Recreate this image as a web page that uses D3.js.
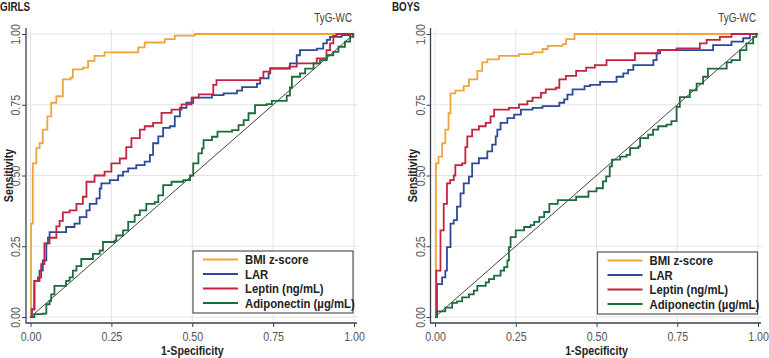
<!DOCTYPE html>
<html>
<head>
<meta charset="utf-8">
<script src="https://cdnjs.cloudflare.com/ajax/libs/d3/7.8.5/d3.min.js"></script>
<style>
  body { margin: 0; background: #fff; }
  svg text { font-family: 'Liberation Sans', Arial, sans-serif; }
</style>
</head>
<body>
<div id="chart"></div>
<script>
// series names and colours (legend order)
var seriesNames = ['BMI z-score', 'LAR', 'Leptin (ng/mL)', 'Adiponectin (µg/mL)']
var seriesColors = ['#f2a43a', '#2b4a98', '#c4223f', '#1d6b3d']
var tickValues = [0, 0.25, 0.5, 0.75, 1]

// ROC points [1-specificity, sensitivity]
var girlsBmi = [[0,0],[0.002,0.33],[0.007,0.543],[0.018,0.597],[0.028,0.614],[0.038,0.662],[0.052,0.709],[0.064,0.757],[0.080,0.78],[0.10,0.84],[0.124,0.846],[0.131,0.875],[0.162,0.881],[0.178,0.905],[0.198,0.923],[0.229,0.935],[0.333,0.953],[0.353,0.97],[0.415,0.982],[0.446,0.994],[0.508,1],[1,1]]
var girlsLar = [[0,0],[0.004,0.027],[0.012,0.128],[0.028,0.164],[0.038,0.20],[0.049,0.26],[0.054,0.28],[0.059,0.30],[0.095,0.30],[0.11,0.318],[0.136,0.33],[0.152,0.353],[0.173,0.377],[0.183,0.40],[0.204,0.419],[0.214,0.454],[0.219,0.472],[0.245,0.484],[0.271,0.50],[0.286,0.514],[0.302,0.525],[0.327,0.537],[0.353,0.549],[0.369,0.573],[0.379,0.614],[0.395,0.638],[0.41,0.668],[0.431,0.674],[0.446,0.709],[0.462,0.739],[0.482,0.757],[0.503,0.775],[0.561,0.784],[0.597,0.79],[0.638,0.80],[0.654,0.812],[0.70,0.825],[0.71,0.843],[0.736,0.861],[0.741,0.878],[0.802,0.896],[0.823,0.925],[0.833,0.943],[0.885,0.948],[0.905,0.967],[0.916,0.979],[0.926,0.99],[0.962,0.996],[0.988,1],[1,1]]
var girlsLeptin = [[0,0],[0.004,0.027],[0.012,0.128],[0.023,0.14],[0.033,0.187],[0.043,0.26],[0.059,0.28],[0.08,0.32],[0.09,0.34],[0.10,0.37],[0.121,0.377],[0.142,0.40],[0.162,0.425],[0.173,0.478],[0.198,0.50],[0.229,0.514],[0.25,0.543],[0.276,0.56],[0.296,0.60],[0.312,0.632],[0.338,0.662],[0.353,0.674],[0.379,0.686],[0.405,0.721],[0.436,0.733],[0.467,0.751],[0.498,0.775],[0.52,0.787],[0.565,0.82],[0.575,0.837],[0.71,0.845],[0.72,0.867],[0.741,0.879],[0.80,0.885],[0.823,0.896],[0.885,0.914],[0.915,0.943],[0.926,0.967],[0.936,0.993],[0.946,1],[1,1]]
var girlsAdipo = [[0,0],[0.012,0.01],[0.038,0.012],[0.049,0.045],[0.059,0.057],[0.064,0.08],[0.074,0.11],[0.10,0.11],[0.11,0.128],[0.121,0.14],[0.131,0.164],[0.142,0.18],[0.157,0.205],[0.183,0.205],[0.193,0.223],[0.214,0.235],[0.224,0.265],[0.26,0.27],[0.265,0.288],[0.286,0.306],[0.302,0.336],[0.322,0.36],[0.338,0.377],[0.358,0.40],[0.384,0.406],[0.395,0.43],[0.41,0.466],[0.436,0.478],[0.472,0.484],[0.493,0.50],[0.503,0.543],[0.519,0.578],[0.53,0.596],[0.535,0.625],[0.561,0.637],[0.578,0.655],[0.623,0.66],[0.643,0.678],[0.659,0.696],[0.674,0.72],[0.694,0.749],[0.73,0.752],[0.746,0.764],[0.782,0.764],[0.792,0.782],[0.802,0.811],[0.808,0.849],[0.833,0.861],[0.849,0.878],[0.875,0.896],[0.895,0.908],[0.916,0.925],[0.936,0.937],[0.952,0.955],[0.972,0.973],[0.988,0.99],[0.998,1],[1,1]]

var boysBmi = [[0,0],[0.003,0.543],[0.011,0.567],[0.022,0.614],[0.032,0.662],[0.042,0.72],[0.048,0.79],[0.063,0.80],[0.089,0.816],[0.105,0.84],[0.131,0.87],[0.146,0.90],[0.162,0.91],[0.198,0.923],[0.26,0.929],[0.302,0.935],[0.333,0.947],[0.349,0.958],[0.395,0.964],[0.406,0.982],[0.432,1],[1,1]]
var boysLar = [[0,0],[0.006,0.116],[0.022,0.14],[0.032,0.164],[0.037,0.247],[0.048,0.33],[0.058,0.342],[0.068,0.39],[0.079,0.437],[0.089,0.472],[0.105,0.496],[0.115,0.543],[0.136,0.561],[0.162,0.585],[0.177,0.609],[0.188,0.638],[0.193,0.662],[0.203,0.686],[0.224,0.703],[0.245,0.715],[0.266,0.733],[0.302,0.739],[0.333,0.745],[0.385,0.757],[0.40,0.769],[0.41,0.786],[0.426,0.804],[0.463,0.816],[0.48,0.82],[0.511,0.831],[0.562,0.849],[0.583,0.861],[0.598,0.873],[0.614,0.89],[0.676,0.908],[0.686,0.932],[0.697,0.943],[0.861,0.961],[0.918,0.973],[0.954,0.985],[0.975,1],[1,1]]
var boysLeptin = [[0,0],[0.004,0.164],[0.017,0.306],[0.027,0.40],[0.037,0.472],[0.047,0.484],[0.058,0.50],[0.063,0.537],[0.084,0.543],[0.094,0.60],[0.10,0.638],[0.115,0.662],[0.136,0.674],[0.157,0.686],[0.172,0.709],[0.183,0.733],[0.229,0.739],[0.26,0.751],[0.286,0.763],[0.302,0.775],[0.328,0.792],[0.343,0.804],[0.374,0.81],[0.385,0.84],[0.405,0.852],[0.437,0.87],[0.468,0.881],[0.495,0.89],[0.531,0.908],[0.619,0.932],[0.69,0.943],[0.748,0.949],[0.82,0.967],[0.841,0.979],[0.882,0.99],[0.918,1],[1,1]]
var boysAdipo = [[0,0],[0.006,0.02],[0.032,0.033],[0.053,0.05],[0.068,0.055],[0.084,0.069],[0.105,0.08],[0.12,0.093],[0.131,0.11],[0.157,0.122],[0.167,0.134],[0.183,0.146],[0.203,0.164],[0.214,0.176],[0.224,0.20],[0.229,0.247],[0.234,0.282],[0.25,0.306],[0.276,0.318],[0.296,0.325],[0.307,0.336],[0.323,0.353],[0.338,0.371],[0.354,0.40],[0.38,0.413],[0.437,0.425],[0.475,0.444],[0.50,0.455],[0.52,0.479],[0.53,0.497],[0.541,0.532],[0.548,0.556],[0.573,0.567],[0.593,0.573],[0.604,0.597],[0.63,0.603],[0.635,0.632],[0.66,0.644],[0.675,0.662],[0.691,0.674],[0.717,0.68],[0.732,0.692],[0.748,0.743],[0.758,0.777],[0.789,0.801],[0.81,0.825],[0.83,0.849],[0.845,0.878],[0.903,0.90],[0.918,0.908],[0.944,0.943],[0.964,0.967],[0.985,0.99],[0.995,1],[1,1]]

// condensed look: squeeze text horizontally
var squeeze = 0.82

var svg = d3.select('#chart')
  .append('svg')
  .attr('width', 769)
  .attr('height', 358)

svg.append('rect').attr('width', 769).attr('height', 358).attr('fill', '#fff')

// put a (narrow) text at x,y with optional rotation
function label (parent, x, y, rot, txt, opts) {
  return parent.append('text')
    .attr('transform', 'translate(' + x + ',' + y + ') rotate(' + rot + ') scale(' + (opts.sx || squeeze) + ',1)')
    .attr('text-anchor', opts.anchor || 'start')
    .attr('font-size', opts.size || 12.5)
    .attr('font-weight', opts.bold ? 'bold' : 'normal')
    .attr('fill', opts.fill || '#222')
    .attr('dy', opts.dy || 0)
    .text(txt)
}

// one panel per sex
function drawPanel (cfg) {
  var x = d3.scaleLinear().domain([0, 1]).range([cfg.x0, cfg.x1])
  var y = d3.scaleLinear().domain([0, 1]).range([317, 34])
  var g = svg.append('g')

  // grid
  g.selectAll('.vgrid').data(tickValues).enter().append('line')
    .attr('x1', d => x(d)).attr('x2', d => x(d))
    .attr('y1', y(1.015)).attr('y2', y(-0.015))
    .attr('stroke', '#e4e4e4').attr('stroke-width', 1)
  g.selectAll('.hgrid').data(tickValues).enter().append('line')
    .attr('y1', d => y(d)).attr('y2', d => y(d))
    .attr('x1', x(-0.012)).attr('x2', x(1.012))
    .attr('stroke', '#e4e4e4').attr('stroke-width', 1)

  // axes
  var xAxis = g.append('g')
    .attr('transform', 'translate(0,323)')
    .call(d3.axisBottom(x).tickValues(tickValues).tickFormat(d3.format('.2f')).tickSize(4).tickSizeOuter(0))
  xAxis.select('.domain').attr('d', 'M' + (cfg.x0 - 5) + ',0H' + (cfg.x1 + 3))
  var yAxis = g.append('g')
    .attr('transform', 'translate(' + (cfg.x0 - 4.5) + ',0)')
    .call(d3.axisLeft(y).tickValues(tickValues).tickFormat(d3.format('.2f')).tickSize(4).tickSizeOuter(0))
  yAxis.select('.domain').attr('d', 'M0,' + (y(1) - 6) + 'V' + 323)
  g.selectAll('.domain').attr('stroke', '#38404f').attr('stroke-width', 1.3)
  g.selectAll('.tick line').attr('stroke', '#38404f')
  xAxis.selectAll('.tick text')
    .attr('font-size', 13).attr('fill', '#555')
    .attr('y', 0).attr('dy', 0)
    .attr('transform', 'translate(0,18) scale(' + squeeze + ',1)')
  yAxis.selectAll('.tick text')
    .attr('font-size', 13).attr('fill', '#555')
    .attr('text-anchor', 'middle')
    .attr('x', 0).attr('dy', 0)
    .attr('transform', 'translate(-6,0) rotate(-90) scale(' + squeeze + ',1)')

  // diagonal reference line
  g.append('line')
    .attr('x1', x(0)).attr('y1', y(0)).attr('x2', x(1)).attr('y2', y(1))
    .attr('stroke', '#111').attr('stroke-width', 0.8)

  var line = d3.line()
    .x(d => x(d[0]))
    .y(d => y(d[1]))
    .curve(d3.curveStepAfter)

  cfg.series.forEach(function (s, i) {
    g.append('path')
      .datum(s)
      .attr('d', line)
      .attr('fill', 'none')
      .attr('stroke', seriesColors[i])
      .attr('stroke-width', 1.8)
  })

  // titles
  label(g, cfg.titleX, 11, 0, cfg.title, { size: 12, bold: true })
  label(g, x(1) - 2, 22, 0, 'TyG-WC', { size: 12, anchor: 'end', fill: '#444' })
  label(g, (x(0) + x(1)) / 2, 355, 0, '1-Specificity', { size: 13, bold: true, anchor: 'middle' })
  label(g, cfg.x0 - 18, y(0.5), -90, 'Sensitivity', { size: 13, bold: true, anchor: 'middle' })

  // legend
  var lg = g.append('g').attr('transform', 'translate(' + cfg.legendX + ',' + cfg.legendY + ')')
  lg.append('rect').attr('width', 160).attr('height', 62)
    .attr('fill', '#fff').attr('stroke', '#555').attr('stroke-width', 1.2)
  seriesNames.forEach(function (name, i) {
    var yy = 8.5 + i * 14.5
    lg.append('line').attr('x1', 10).attr('x2', 45).attr('y1', yy).attr('y2', yy)
      .attr('stroke', seriesColors[i]).attr('stroke-width', 1.8)
    label(lg, 52, yy, 0, name, { size: 13.5, bold: true, dy: '0.35em', sx: 0.84 })
  })
}

drawPanel({ title: 'GIRLS', titleX: 0, x0: 30.5, x1: 354, legendX: 193, legendY: 251,
  series: [girlsBmi, girlsLar, girlsLeptin, girlsAdipo] })
drawPanel({ title: 'BOYS', titleX: 392, x0: 435, x1: 758, legendX: 597.5, legendY: 252,
  series: [boysBmi, boysLar, boysLeptin, boysAdipo] })
</script>
</body>
</html>
